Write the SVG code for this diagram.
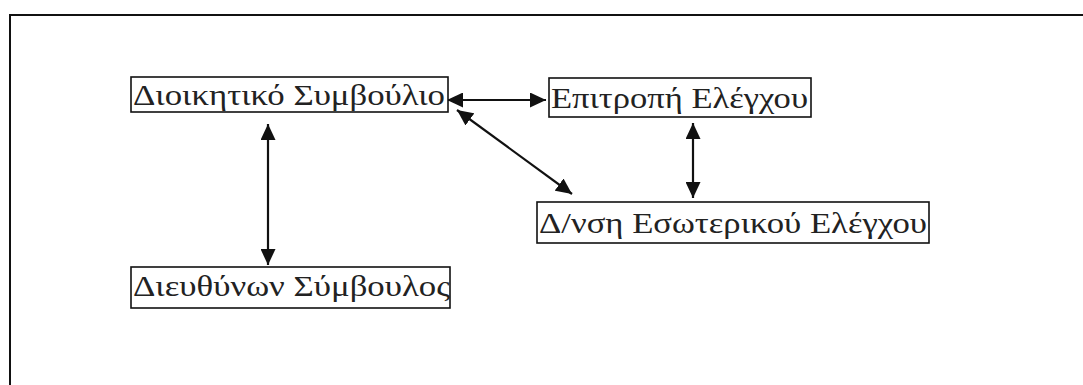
<svg xmlns="http://www.w3.org/2000/svg" width="1083" height="385" viewBox="0 0 1083 385">
  <style>
    .frame { fill: none; stroke: #111; stroke-width: 2; }
    .box { fill: #fff; stroke: #111; stroke-width: 1.6; }
    .label { font-family: "Liberation Serif", "Times New Roman", serif; font-size: 30px; fill: #222; }
    .link { stroke: #111; stroke-width: 2.2; fill: none; marker-start: url(#head); marker-end: url(#head); }
  </style>
  <defs>
    <marker id="head" viewBox="0 0 10 10" refX="10" refY="5" markerUnits="userSpaceOnUse" markerWidth="16" markerHeight="15" orient="auto-start-reverse" preserveAspectRatio="none">
      <path d="M0,0 L10,5 L0,10 z" fill="#111"/>
    </marker>
  </defs>

  <rect width="1083" height="385" fill="#fff"/>
  <!-- outer frame, open to the right and bottom -->
  <path class="frame" d="M10,385 V15 H1083"/>

  <g id="connectors">
    <line class="link" x1="447" y1="100" x2="546" y2="100"/>
    <line class="link" x1="457" y1="110" x2="572" y2="194"/>
    <line class="link" x1="693" y1="123" x2="693" y2="198"/>
    <line class="link" x1="268" y1="124" x2="268" y2="265"/>
  </g>

  <g id="board">
    <rect class="box" x="131" y="77" width="317" height="35"/>
    <text class="label" x="133" y="105" textLength="312" lengthAdjust="spacingAndGlyphs">Διοικητικό Συμβούλιο</text>
  </g>

  <g id="audit-committee">
    <rect class="box" x="549" y="78" width="262" height="39"/>
    <text class="label" x="551" y="108" textLength="257" lengthAdjust="spacingAndGlyphs">Επιτροπή Ελέγχου</text>
  </g>

  <g id="internal-audit">
    <rect class="box" x="537" y="202" width="392" height="41"/>
    <text class="label" x="539" y="233" textLength="388" lengthAdjust="spacingAndGlyphs">Δ/νση Εσωτερικού Ελέγχου</text>
  </g>

  <g id="ceo">
    <rect class="box" x="131" y="267" width="319" height="41"/>
    <text class="label" x="133" y="296" textLength="317" lengthAdjust="spacingAndGlyphs">Διευθύνων Σύμβουλος</text>
  </g>
</svg>
